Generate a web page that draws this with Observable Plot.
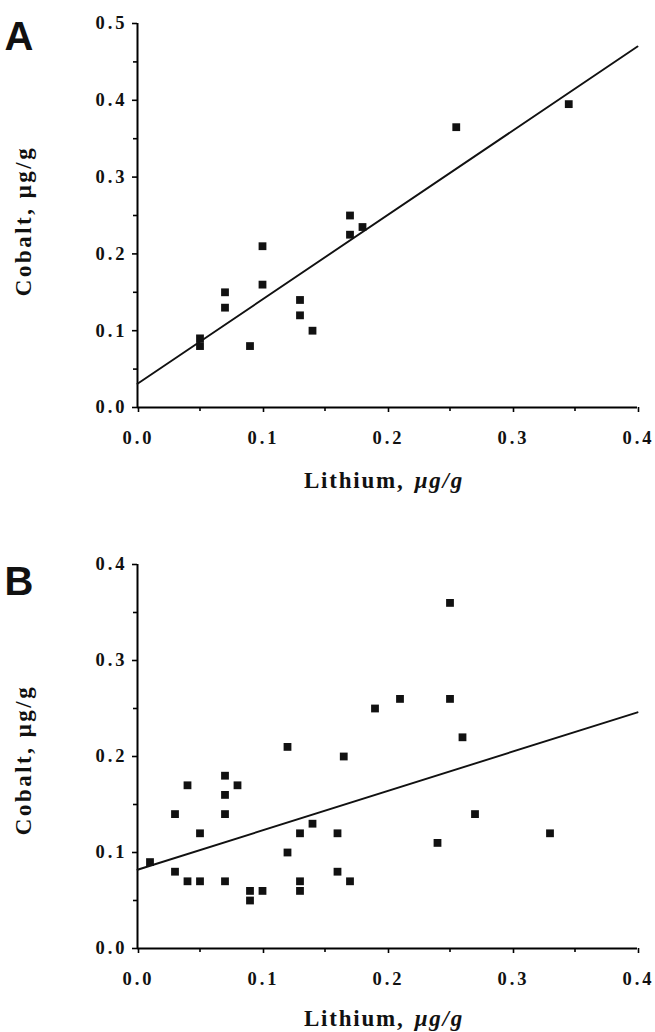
<!DOCTYPE html>
<html>
<head>
<meta charset="utf-8">
<script src="https://cdn.jsdelivr.net/npm/d3@7"></script>
<script src="https://cdn.jsdelivr.net/npm/@observablehq/plot@0.6"></script>
<style>
  html, body { margin: 0; padding: 0; background: #fff; }
  #chart svg { display: block; background: #fff; }
  .tl text { font-family: "Liberation Serif", "Times New Roman", serif; font-weight: bold; font-size: 18.5px; letter-spacing: 3px; fill: #111; }
</style>
</head>
<body>
<div id="chart"></div>
<script>
// Panel A data
const lithiumA = [0.05, 0.05, 0.07, 0.07, 0.09, 0.10, 0.10, 0.13, 0.13, 0.14, 0.17, 0.17, 0.18, 0.255, 0.345];
const cobaltA  = [0.08, 0.09, 0.13, 0.15, 0.08, 0.16, 0.21, 0.14, 0.12, 0.10, 0.25, 0.225, 0.235, 0.365, 0.395];
const fitA_x = [0, 0.4];
const fitA_y = [0.031, 0.47];

// Panel B data
const lithiumB = [0.01, 0.03, 0.03, 0.04, 0.04, 0.05, 0.05, 0.07, 0.07, 0.07, 0.07, 0.08, 0.09, 0.09, 0.10, 0.12, 0.12, 0.13, 0.13, 0.13, 0.14, 0.16, 0.16, 0.165, 0.17, 0.19, 0.21, 0.24, 0.25, 0.25, 0.26, 0.27, 0.33];
const cobaltB  = [0.09, 0.08, 0.14, 0.17, 0.07, 0.12, 0.07, 0.07, 0.14, 0.16, 0.18, 0.17, 0.06, 0.05, 0.06, 0.10, 0.21, 0.12, 0.07, 0.06, 0.13, 0.12, 0.08, 0.20, 0.07, 0.25, 0.26, 0.11, 0.36, 0.26, 0.22, 0.14, 0.12];
const fitB_x = [0, 0.4];
const fitB_y = [0.082, 0.246];

// Ticks
const xMajor = [0, 0.1, 0.2, 0.3, 0.4];
const xMinor = [0.05, 0.15, 0.25, 0.35];
const yMajorA = [0, 0.1, 0.2, 0.3, 0.4, 0.5];
const yMinorA = [0.05, 0.15, 0.25, 0.35, 0.45];
const yMajorB = [0, 0.1, 0.2, 0.3, 0.4];
const yMinorB = [0.05, 0.15, 0.25, 0.35];

const xLabel = "Lithium,";
const xUnit = "μg/g";
const yLabel = "Cobalt, μg/g";

const fmt = d3.format(".1f");
const serif = "Liberation Serif, Times New Roman, serif";

function panel(cfg) {
  const pts = cfg.li.map((x, i) => ({x, y: cfg.co[i]}));
  const fit = cfg.fx.map((x, i) => ({x, y: cfg.fy[i]}));
  const svg = Plot.plot({
    width: 655,
    height: cfg.height,
    marginLeft: 137,
    marginRight: 18,
    marginTop: cfg.mt,
    marginBottom: cfg.mb,
    x: {domain: [0, 0.4]},
    y: {domain: [0, cfg.yMax]},
    marks: [
      Plot.axisX(xMajor, {tickSize: 5, tickPadding: 18, tickFormat: fmt, dx: 1, strokeWidth: 1.6, label: null, className: "tl"}),
      Plot.axisX(xMinor, {tickSize: 4, tickFormat: () => "", strokeWidth: 1.6, label: null}),
      Plot.axisY(cfg.yMajor, {tickSize: 5, tickPadding: 5, tickFormat: fmt, strokeWidth: 1.6, label: null, className: "tl"}),
      Plot.axisY(cfg.yMinor, {tickSize: 4, tickFormat: () => "", strokeWidth: 1.6, label: null}),
      Plot.ruleY([0], {strokeWidth: 2}),
      Plot.ruleX([0], {strokeWidth: 2}),
      Plot.line(fit, {x: "x", y: "y", stroke: "#111", strokeWidth: 1.9}),
      Plot.dot(pts, {x: "x", y: "y", symbol: "square", r: 4.4, fill: "#111", stroke: null})
    ]
  });
  const s = d3.select(svg);
  // panel letter
  s.append("text")
    .attr("x", 19).attr("y", cfg.letterY)
    .attr("font-family", "Liberation Sans, Arial, sans-serif")
    .attr("font-weight", "bold").attr("font-size", 40)
    .attr("fill", "#111")
    .text(cfg.letter);
  // x label
  const xt = s.append("text")
    .attr("x", 384).attr("y", cfg.xLabelY)
    .attr("text-anchor", "middle")
    .attr("font-family", serif).attr("font-weight", "bold").attr("font-size", 23)
    .attr("letter-spacing", "1.8px")
    .attr("fill", "#111");
  xt.append("tspan").text(xLabel);
  xt.append("tspan").attr("dx", 10).attr("font-style", "italic").text(xUnit);
  // y label
  s.append("text")
    .attr("transform", `translate(31,${cfg.yLabelY}) rotate(-90)`)
    .attr("text-anchor", "middle")
    .attr("font-family", serif).attr("font-weight", "bold").attr("font-size", 23)
    .attr("letter-spacing", "2.5px")
    .attr("fill", "#111")
    .text(yLabel);
  return svg;
}

const root = document.getElementById("chart");
root.append(panel({li: lithiumA, co: cobaltA, fx: fitA_x, fy: fitA_y, yMax: 0.5, yMajor: yMajorA, yMinor: yMinorA,
  height: 500, mt: 23, mb: 93, letter: "A", letterY: 50, xLabelY: 488, yLabelY: 221}));
root.append(panel({li: lithiumB, co: cobaltB, fx: fitB_x, fy: fitB_y, yMax: 0.4, yMajor: yMajorB, yMinor: yMinorB,
  height: 532, mt: 64, mb: 84, letter: "B", letterY: 95, xLabelY: 526, yLabelY: 260}));
</script>
</body>
</html>
